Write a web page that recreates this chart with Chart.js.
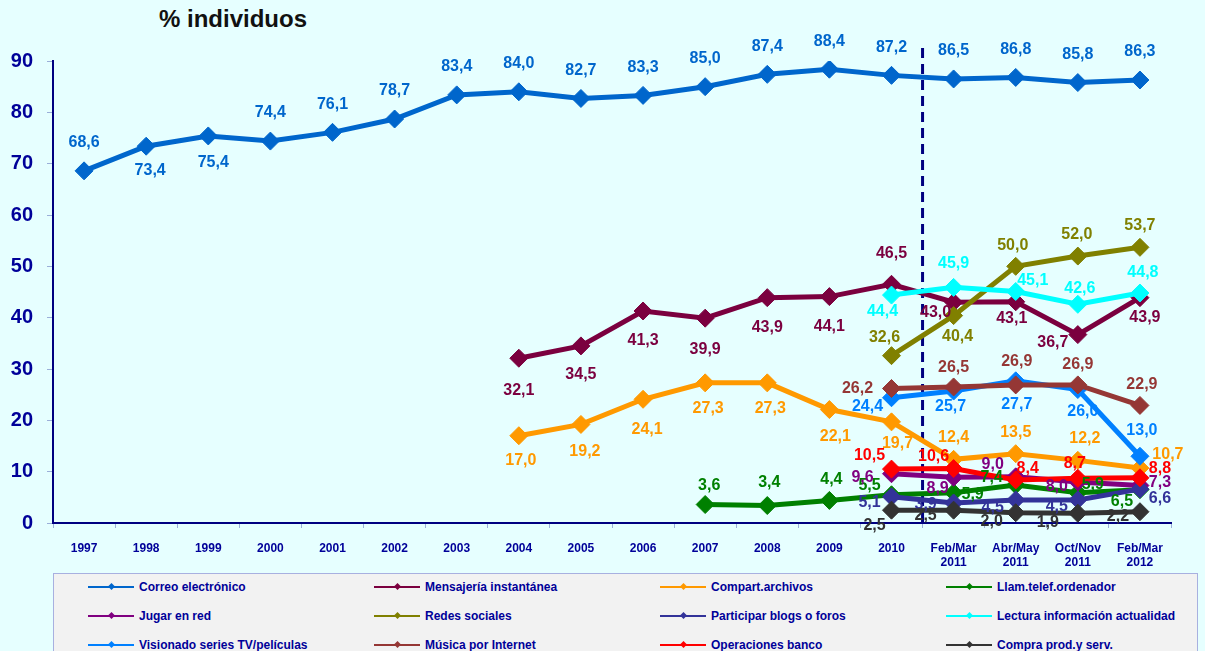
<!DOCTYPE html>
<html>
<head>
<meta charset="utf-8">
<script src="https://cdn.jsdelivr.net/npm/chart.js@4.4.1/dist/chart.umd.min.js"></script>
<style>
  body { margin: 0; background: #E6FFFF; width: 1205px; height: 651px; overflow: hidden; position: relative;
         font-family: "Liberation Sans", Arial, sans-serif; }
  #title { position: absolute; left: 159px; top: 5px; font-size: 24px; font-weight: bold; color: #111; }
  #chart { position: absolute; left: 0; top: 0; }
  #legend { position: absolute; left: 53px; top: 573px; width: 1145px; height: 100px; background: #F2F2F2;
            border: 1px solid #A8B0E0; box-sizing: border-box; }
  .item { position: absolute; height: 14px; font-size: 12px; font-weight: bold; color: #000099; white-space: nowrap; }
  .item .ln { position: absolute; left: 0; top: 6px; width: 46px; height: 2px; }
  .item .dot { position: absolute; left: 21px; top: 4px; width: 5px; height: 5px; transform: rotate(45deg); }
  .item .tx { position: absolute; left: 51px; top: -1px; line-height: 16px; }
</style>
</head>
<body>
<div id="title">% individuos</div>
<canvas id="chart" width="1205" height="572"></canvas>
<div id="legend"></div>
<script>
const categorias = ["1997", "1998", "1999", "2000", "2001", "2002", "2003", "2004", "2005", "2006",
  "2007", "2008", "2009", "2010", ["Feb/Mar", "2011"], ["Abr/May", "2011"], ["Oct/Nov", "2011"], ["Feb/Mar", "2012"]];

const correo = [68.6, 73.4, 75.4, 74.4, 76.1, 78.7, 83.4, 84.0, 82.7, 83.3, 85.0, 87.4, 88.4, 87.2, 86.5, 86.8, 85.8, 86.3];
const mensajeria = [null, null, null, null, null, null, null, 32.1, 34.5, 41.3, 39.9, 43.9, 44.1, 46.5, 43.0, 43.1, 36.7, 43.9];
const compartArchivos = [null, null, null, null, null, null, null, 17.0, 19.2, 24.1, 27.3, 27.3, 22.1, 19.7, 12.4, 13.5, 12.2, 10.7];
const llamadas = [null, null, null, null, null, null, null, null, null, null, 3.6, 3.4, 4.4, 5.5, 5.9, 7.4, 5.9, 6.5];
const jugarRed = [null, null, null, null, null, null, null, null, null, null, null, null, null, 9.6, 8.9, 9.0, 8.0, 7.3];
const redesSociales = [null, null, null, null, null, null, null, null, null, null, null, null, null, 32.6, 40.4, 50.0, 52.0, 53.7];
const blogsForos = [null, null, null, null, null, null, null, null, null, null, null, null, null, 5.1, 3.9, 4.5, 4.5, 6.6];
const lecturaInfo = [null, null, null, null, null, null, null, null, null, null, null, null, null, 44.4, 45.9, 45.1, 42.6, 44.8];
const visionadoTV = [null, null, null, null, null, null, null, null, null, null, null, null, null, 24.4, 25.7, 27.7, 26.0, 13.0];
const musica = [null, null, null, null, null, null, null, null, null, null, null, null, null, 26.2, 26.5, 26.9, 26.9, 22.9];
const banco = [null, null, null, null, null, null, null, null, null, null, null, null, null, 10.5, 10.6, 8.4, 8.7, 8.8];
const compra = [null, null, null, null, null, null, null, null, null, null, null, null, null, 2.5, 2.5, 2.0, 1.9, 2.2];

const series = [
  { label: "Correo electrónico", data: correo, color: "#0066CC" },
  { label: "Mensajería instantánea", data: mensajeria, color: "#7B003F" },
  { label: "Compart.archivos", data: compartArchivos, color: "#FF9900" },
  { label: "Llam.telef.ordenador", data: llamadas, color: "#008000" },
  { label: "Jugar en red", data: jugarRed, color: "#800080" },
  { label: "Redes sociales", data: redesSociales, color: "#808000" },
  { label: "Participar blogs o foros", data: blogsForos, color: "#333399" },
  { label: "Lectura información actualidad", data: lecturaInfo, color: "#00FFFF" },
  { label: "Visionado series TV/películas", data: visionadoTV, color: "#0080FF" },
  { label: "Música por Internet", data: musica, color: "#953735" },
  { label: "Operaciones banco", data: banco, color: "#FF0000" },
  { label: "Compra prod.y serv.", data: compra, color: "#333333" }
];

// where each value label sits relative to its point [dx, dy], one entry per non-null value
const up = [0, -28];
const labelPos = [
  [up, [4, 24], [5, 27], up, up, up, up, up, up, up, up, up, up, up, up, up, up, up],
  [[0, 32], [0, 29], [0, 30], [0, 31], [0, 30], [0, 30], [0, -31], [-18, 10], [-4, 17], [-25, 8], [5, 20]],
  [[2, 25], [4, 27], [4, 30], [3, 26], [3, 26], [6, 27], [6, 22], [0, -22], [0, -21], [7, -22], [28, -13]],
  [[4, -19], [2, -23], [2, -21], [-22, -9], [19, 2], [-24, -7], [15, -8], [-18, 12]],
  [[-29, 4], [-16, 11], [-23, -12], [-21, 5], [20, -3]],
  [[-7, -18], [4, 21], [-3, -21], [-1, -21], [0, -22]],
  [[-22, 6], [-28, 2], [-23, 8], [-21, 7], [20, 9]],
  [[-9, 17], [0, -24], [17, -11], [2, -16], [3, -20]],
  [[-24, 9], [-3, 16], [1, 24], [5, 22], [2, -26]],
  [[-34, 0], [0, -19], [1, -23], [0, -20], [2, -21]],
  [[-22, -14], [-20, -12], [12, -11], [-3, -15], [20, -9]],
  [[-17, 15], [-28, 5], [-24, 9], [-30, 9], [-22, 5]]
];

const navy = "#000099";

const dashLine = {
  id: "dashLine",
  beforeDatasetsDraw(chart) {
    const x = chart.scales.x;
    const xp = (x.getPixelForValue(13) + x.getPixelForValue(14)) / 2;
    const ctx = chart.ctx;
    ctx.save();
    ctx.strokeStyle = "#000080";
    ctx.lineWidth = 3;
    ctx.setLineDash([10, 6]);
    ctx.beginPath();
    ctx.moveTo(xp, chart.chartArea.top - 13);
    ctx.lineTo(xp, chart.chartArea.bottom);
    ctx.stroke();
    ctx.restore();
  }
};

const valueLabels = {
  id: "valueLabels",
  afterDatasetsDraw(chart) {
    const ctx = chart.ctx;
    ctx.save();
    ctx.font = "bold 16px 'Liberation Sans', Arial, sans-serif";
    ctx.textAlign = "center";
    ctx.textBaseline = "middle";
    series.forEach((s, i) => {
      const meta = chart.getDatasetMeta(i);
      let k = 0;
      s.data.forEach((v, j) => {
        if (v === null) return;
        const p = meta.data[j];
        const off = labelPos[i][k++] || up;
        ctx.fillStyle = s.color;
        ctx.fillText(v.toFixed(1).replace(".", ","), p.x + off[0], p.y + off[1]);
      });
    });
    ctx.restore();
  }
};

new Chart(document.getElementById("chart"), {
  type: "line",
  data: {
    labels: categorias,
    datasets: series.map((s, i) => ({
      label: s.label,
      data: s.data,
      borderColor: s.color,
      backgroundColor: s.color,
      borderWidth: 5,
      pointStyle: "rectRot",
      pointRadius: 9,
      pointBorderWidth: 1,
      order: series.length - i,
      tension: 0
    }))
  },
  options: {
    responsive: false,
    devicePixelRatio: 1,
    animation: false,
    layout: { padding: { top: 61, right: 34, left: 0, bottom: 0 } },
    plugins: { legend: { display: false }, tooltip: { enabled: false } },
    scales: {
      x: {
        offset: true,
        afterFit: (s) => { s.height = 49; },
        grid: { offset: true, drawOnChartArea: false, drawTicks: true, tickLength: 5, color: "#9BAFD9" },
        border: { color: "#000080", width: 2 },
        ticks: { color: navy, padding: 13, maxRotation: 0, autoSkip: false,
                 font: { family: "'Liberation Sans', Arial, sans-serif", size: 12, weight: "bold" } }
      },
      y: {
        min: 0, max: 90,
        afterFit: (s) => { s.width = 53; },
        grid: { drawOnChartArea: false, drawTicks: true, tickLength: 6, color: "#9BAFD9" },
        border: { color: "#000080", width: 2 },
        ticks: { stepSize: 10, color: navy, padding: 14,
                 font: { family: "'Liberation Sans', Arial, sans-serif", size: 20, weight: "bold" } }
      }
    }
  },
  plugins: [dashLine, valueLabels]
});

// legend in four columns, three rows
const legend = document.getElementById("legend");
series.forEach((s, i) => {
  const col = i % 4, row = Math.floor(i / 4);
  const it = document.createElement("div");
  it.className = "item";
  it.style.left = (34 + col * 286) + "px";
  it.style.top = (6 + row * 29) + "px";
  it.innerHTML = `<span class="ln" style="background:${s.color}"></span>` +
    `<span class="dot" style="background:${s.color}"></span><span class="tx">${s.label}</span>`;
  legend.appendChild(it);
});
</script>
</body>
</html>
